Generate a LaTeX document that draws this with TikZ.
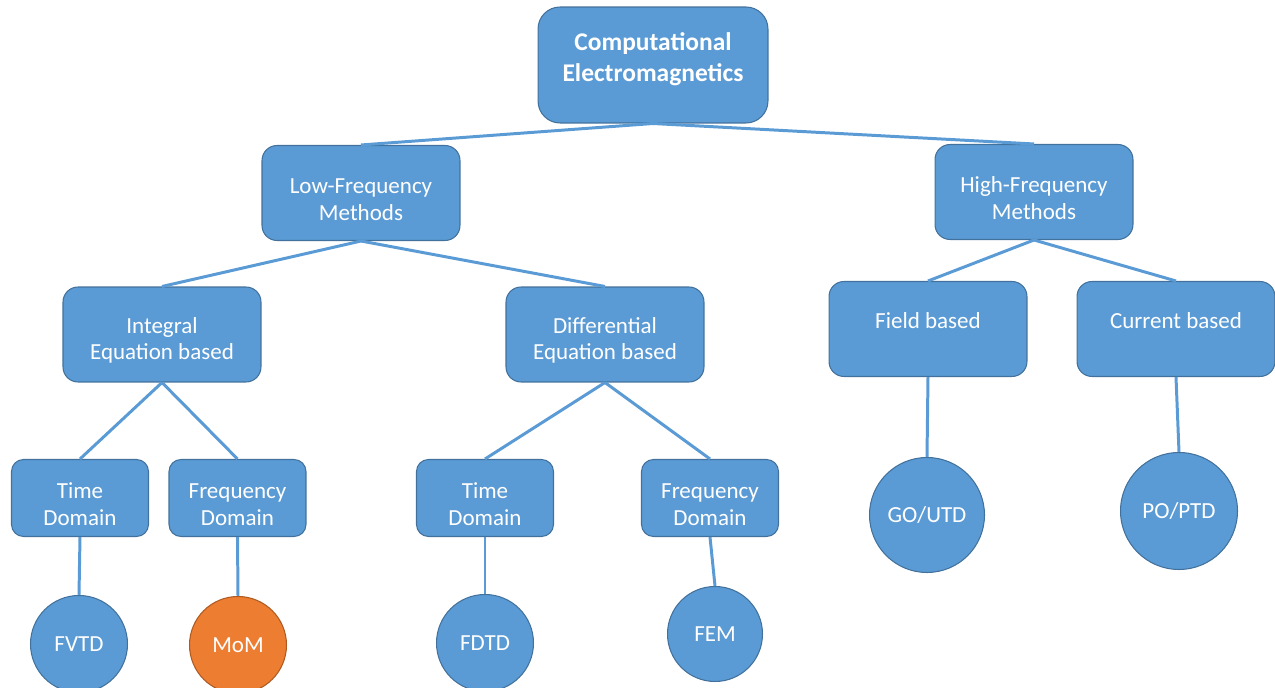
\documentclass[tikz,border=0pt]{standalone}
\usepackage{fontspec}
\setmainfont{Carlito}
\definecolor{boxblue}{HTML}{5B9BD5}
\definecolor{boxedge}{HTML}{41719C}
\definecolor{momorange}{HTML}{ED7D31}
\definecolor{momedge}{HTML}{AE5A21}
\begin{document}
\begin{tikzpicture}[x=0.02cm, y=-0.02cm,
    B/.style={draw=boxedge, line width=0.6pt, fill=boxblue, rounded corners=0.3cm, text=white, align=center,
              font=\fontsize{13.1}{15}\selectfont, minimum width=3.96cm, minimum height=1.9cm, inner sep=0pt,
              text height=31pt},
    S/.style={B, rounded corners=0.24cm, minimum width=2.74cm, minimum height=1.54cm},
    C/.style={draw=boxedge, line width=0.6pt, fill=boxblue, circle, text=white,
              font=\fontsize{13.1}{15}\selectfont, minimum size=1.94cm, inner sep=0pt},
    L/.style={draw=boxblue, line width=1.7pt}]
    \useasboundingbox (0,0) rectangle (1275,688);
    \node[B, rounded corners=0.44cm, minimum width=4.6cm, minimum height=2.32cm, text height=33pt, text depth=14pt,
          font=\fontsize{14.5}{17.6}\selectfont\bfseries] (cem) at (653,65) {Computational\\Electromagnetics};
    \node[B] (lf) at (361,193) {Low-Frequency\\Methods};
    \node[B] (hf) at (1034,192) {High-Frequency\\Methods};
    \node[B] (ie) at (162,334.5) {Integral\\Equation based};
    \node[B] (de) at (605,334.5) {Differential\\Equation based};
    \node[B, text height=16pt, text depth=16pt] (fb) at (928,329) {Field based};
    \node[B, text height=16pt, text depth=16pt] (cb) at (1176,329) {Current based};
    \node[S] (td_1) at (80,498) {Time\\Domain};
    \node[S] (fd_1) at (237.5,498) {Frequency\\Domain};
    \node[S] (td_2) at (485,498) {Time\\Domain};
    \node[S] (fd_2) at (710,498) {Frequency\\Domain};
    \node[C] (fvtd) at (79,644) {FVTD};
    \node[C, fill=momorange, draw=momedge] (mom) at (238,645) {MoM};
    \node[C] (fdtd) at (485,643) {FDTD};
    \node[C, minimum size=1.9cm] (fem) at (715,634) {FEM};
    \node[C, minimum size=2.3cm] (go) at (927,515) {GO/UTD};
    \node[C, minimum size=2.34cm] (po) at (1179,511) {PO/PTD};
    \draw[L] (cem.south) -- (lf.north);
    \draw[L] (cem.south) -- (hf.north);
    \draw[L] (lf.south) -- (ie.north);
    \draw[L] (lf.south) -- (de.north);
    \draw[L] (hf.south) -- (fb.north);
    \draw[L] (hf.south) -- (cb.north);
    \draw[L] (ie.south) -- (td_1.north);
    \draw[L] (ie.south) -- (fd_1.north);
    \draw[L] (de.south) -- (td_2.north);
    \draw[L] (de.south) -- (fd_2.north);
    \draw[L] (td_1.south) -- (fvtd.north);
    \draw[L] (fd_1.south) -- (mom.north);
    \draw[L] (td_2.south) -- (fdtd.north);
    \draw[L] (fd_2.south) -- (fem.north);
    \draw[L] (fb.south) -- (go.north);
    \draw[L] (cb.south) -- (po.north);
\end{tikzpicture}
\end{document}
